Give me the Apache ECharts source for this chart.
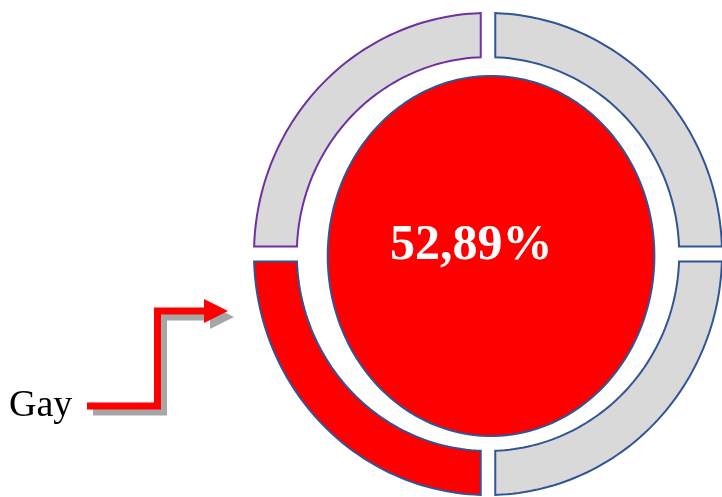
<!DOCTYPE html>
<html>
<head>
<meta charset="utf-8">
<script src="https://cdn.jsdelivr.net/npm/echarts@6/dist/echarts.min.js"></script>
<style>
  html, body { margin: 0; padding: 0; background: #ffffff; }
  #chart { width: 722px; height: 497px; }
</style>
</head>
<body>
<div id="chart"></div>
<script>
// Ring segments, clockwise from 12 o'clock (shares of the full ring)
const ringShares = [25, 25, 25, 25];
// Which segment is highlighted, its label and the percentage shown in the middle
const highlightIndex = 2;
const highlightLabel = 'Gay';
const highlightValue = 52.89;

const RED = '#ff0000';
const GREY = '#d9d9d9';
const BLUE = '#2f5597';
const PURPLE = '#7030a0';

const total = ringShares.reduce((a, b) => a + b, 0);
const cumulative = [0];
ringShares.forEach(v => cumulative.push(cumulative[cumulative.length - 1] + v));

const R_OUT = 1;        // ring outer radius (axis units)
const R_IN = 0.817;     // ring inner radius
const GAP = 0.031;      // half width of the straight gaps between segments
const DISC_RX = 0.698;  // centre disc radii
const DISC_RY = 0.747;
const DISC_CX = 0.013;
const DISC_CY = -0.008;

const rad = d => d * Math.PI / 180;

function segmentPoints(api, i) {
  const a0 = 90 - cumulative[i] / total * 360;
  const a1 = 90 - cumulative[i + 1] / total * 360;
  const pts = [];
  const N = 60;
  const sOut = Math.asin(GAP / R_OUT) * 180 / Math.PI;
  const sIn = Math.asin(GAP / R_IN) * 180 / Math.PI;
  for (let k = 0; k <= N; k++) {
    const p = a0 - sOut + (a1 + sOut - (a0 - sOut)) * k / N;
    pts.push(api.coord([R_OUT * Math.cos(rad(p)), R_OUT * Math.sin(rad(p))]));
  }
  for (let k = 0; k <= N; k++) {
    const p = a1 + sIn + (a0 - sIn - (a1 + sIn)) * k / N;
    pts.push(api.coord([R_IN * Math.cos(rad(p)), R_IN * Math.sin(rad(p))]));
  }
  return pts;
}

function discPoints(api) {
  const pts = [];
  for (let k = 0; k < 240; k++) {
    const t = 2 * Math.PI * k / 240;
    pts.push(api.coord([DISC_CX + DISC_RX * Math.cos(t), DISC_CY + DISC_RY * Math.sin(t)]));
  }
  return pts;
}

const chart = echarts.init(document.getElementById('chart'), null, { renderer: 'canvas' });

chart.setOption({
  animation: false,
  backgroundColor: '#ffffff',
  grid: { left: 254, top: 13, width: 472, height: 482, show: false },
  xAxis: { type: 'value', min: -1, max: 1, show: false },
  yAxis: { type: 'value', min: -1, max: 1, show: false },
  series: [
    {
      type: 'custom',
      coordinateSystem: 'cartesian2d',
      clip: false,
      data: ringShares.map((v, i) => [0, 0, v, i]),
      renderItem: function (params, api) {
        const i = params.dataIndex;
        const isTopLeft = i === ringShares.length - 1;
        return {
          type: 'polygon',
          shape: { points: segmentPoints(api, i) },
          style: {
            fill: i === highlightIndex ? RED : GREY,
            stroke: isTopLeft ? PURPLE : BLUE,
            lineWidth: 2
          }
        };
      }
    },
    {
      type: 'custom',
      coordinateSystem: 'cartesian2d',
      clip: false,
      data: [[0, 0, highlightValue]],
      renderItem: function (params, api) {
        const txtPos = api.coord([-0.072, 0.033]);
        return {
          type: 'group',
          children: [
            {
              type: 'polygon',
              shape: { points: discPoints(api) },
              style: { fill: RED, stroke: BLUE, lineWidth: 2 }
            },
            {
              type: 'text',
              x: txtPos[0],
              y: txtPos[1],
              style: {
                text: api.value(2).toFixed(2).replace('.', ',') + '%',
                fill: '#ffffff',
                font: 'bold 50px "Liberation Serif", "Times New Roman", serif',
                align: 'center',
                verticalAlign: 'middle'
              }
            }
          ]
        };
      }
    }
  ],
  graphic: [
    // callout shadow
    {
      type: 'polyline',
      shape: { points: [[93, 412], [163.5, 412], [163.5, 317], [211, 317]] },
      style: { stroke: '#a6a6a6', lineWidth: 7, fill: null, lineJoin: 'miter' },
      z: 1
    },
    {
      type: 'polygon',
      shape: { points: [[210, 305], [234, 317], [210, 329]] },
      style: { fill: '#a6a6a6' },
      z: 1
    },
    // callout arrow
    {
      type: 'polyline',
      shape: { points: [[87, 406], [157.5, 406], [157.5, 311], [205, 311]] },
      style: { stroke: RED, lineWidth: 7, fill: null, lineJoin: 'miter' },
      z: 2
    },
    {
      type: 'polygon',
      shape: { points: [[204, 299], [228, 311], [204, 323]] },
      style: { fill: RED },
      z: 2
    },
    {
      type: 'text',
      x: 9,
      y: 406,
      style: {
        text: highlightLabel,
        fill: '#000000',
        font: '38px "Liberation Serif", "Times New Roman", serif',
        align: 'left',
        verticalAlign: 'middle'
      },
      z: 2
    }
  ]
});
</script>
</body>
</html>
